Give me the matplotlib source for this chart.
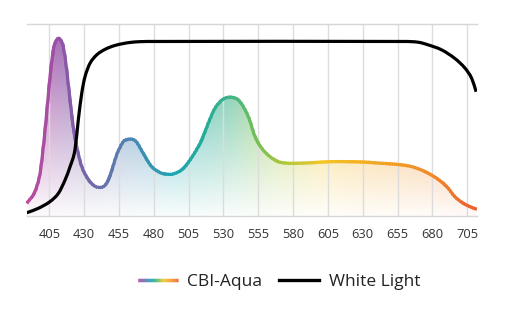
import numpy as np
import matplotlib
matplotlib.use("Agg")
import matplotlib.pyplot as plt
from matplotlib.collections import LineCollection
from matplotlib.colors import LinearSegmentedColormap, Normalize
from matplotlib.legend_handler import HandlerBase
from matplotlib.lines import Line2D
from matplotlib.path import Path
from matplotlib.patches import PathPatch, Rectangle

plt.rcParams['font.family'] = ['Open Sans', 'DejaVu Sans']

# wavelength axis (nm)
ticks = [405, 430, 455, 480, 505, 530, 555, 580, 605, 630, 655, 680, 705]

# CBI-Aqua relative spectrum
aqua_wl = [388.8, 394.7, 398.3, 400.7, 403.1, 405.5, 407.9, 409.7, 411.5, 413.3,
           415.1, 417.5, 419.9, 422.2, 424.7, 428.3, 433.0, 437.8, 442.1, 445.0,
           447.5, 450.0, 453.4, 458.1, 461.0, 464.2, 467.0, 469.0, 473.7, 478.5,
           484.5, 489.0, 494.0, 501.2, 508.4, 514.4, 519.1, 523.9, 529.9, 536.4,
           541.9, 547.9, 552.7, 557.5, 563.4, 569.4, 574.2, 580.2, 594.5, 606.5,
           618.5, 630.4, 642.4, 654.4, 665.2, 674.7, 683.1, 690.3, 696.2, 702.2,
           708.2, 711.8]
aqua_val = [0.066, 0.127, 0.22, 0.36, 0.535, 0.725, 0.865, 0.91, 0.925, 0.915,
            0.88, 0.76, 0.60, 0.465, 0.36, 0.257, 0.19, 0.155, 0.149, 0.16,
            0.19, 0.24, 0.32, 0.387, 0.398, 0.40, 0.39, 0.37, 0.31, 0.257,
            0.226, 0.218, 0.219, 0.248, 0.318, 0.396, 0.483, 0.561, 0.609, 0.618,
            0.595, 0.517, 0.413, 0.353, 0.309, 0.283, 0.276, 0.274, 0.278, 0.283,
            0.283, 0.281, 0.275, 0.269, 0.257, 0.231, 0.196, 0.153, 0.10, 0.066,
            0.045, 0.035]

# white light reference spectrum
white_wl = [388.8, 397.1, 405.5, 411.5, 416.3, 419.9, 423.4, 425.8, 428.3, 430.6,
            434.2, 439.0, 445.0, 452.0, 458.0, 463.0, 470.0, 480.0, 660.0, 669.9,
            677.1, 686.7, 696.2, 703.4, 708.2, 711.4]
white_val = [0.017, 0.04, 0.075, 0.118, 0.1875, 0.257, 0.344, 0.5, 0.64, 0.725,
             0.795, 0.839, 0.868, 0.888, 0.898, 0.904, 0.908, 0.909, 0.909, 0.905,
             0.891, 0.865, 0.82, 0.77, 0.717, 0.647]

# hue stops along the spectrum
hue_wl = [389, 405, 412, 425, 442, 464, 494, 515, 536, 556, 575, 600, 630, 680, 712]
hue_col = ['#bc4c9e', '#a24ea4', '#9452a6', '#7a60a8', '#6a70a8', '#4a86b4',
           '#1ea6b2', '#24ab9a', '#42b486', '#7cc052', '#b0c83a', '#f2c62a',
           '#f4ae22', '#f08a2a', '#ec5e30']

x_lo, x_hi = 389.2, 711.8
norm = Normalize(hue_wl[0], hue_wl[-1], clip=True)
cmap = LinearSegmentedColormap.from_list(
    'spectrum', [(norm(w), c) for w, c in zip(hue_wl, hue_col)])


def smooth_path(xs, ys, close_to=None):
    """Cubic Hermite curve through the points, as Bezier segments."""
    x = np.asarray(xs, float)
    y = np.asarray(ys, float)
    m = np.empty_like(y)
    m[1:-1] = (y[2:] - y[:-2]) / (x[2:] - x[:-2])
    m[0] = (y[1] - y[0]) / (x[1] - x[0])
    m[-1] = (y[-1] - y[-2]) / (x[-1] - x[-2])
    verts = [(x[0], y[0])]
    codes = [Path.MOVETO]
    for i in range(len(x) - 1):
        h = x[i + 1] - x[i]
        verts += [(x[i] + h / 3, y[i] + m[i] * h / 3),
                  (x[i + 1] - h / 3, y[i + 1] - m[i + 1] * h / 3),
                  (x[i + 1], y[i + 1])]
        codes += [Path.CURVE4] * 3
    if close_to is not None:
        verts += [(x[-1], close_to), (x[0], close_to), (x[0], y[0])]
        codes += [Path.LINETO, Path.LINETO, Path.CLOSEPOLY]
    return Path(verts, codes)


class GradientHandler(HandlerBase):
    def create_artists(self, legend, orig_handle, xdescent, ydescent,
                       width, height, fontsize, trans):
        xs = np.linspace(-xdescent, width - xdescent, 61)
        y = height / 2 - ydescent
        segs = [[(xs[i], y), (xs[i + 1] + 0.4, y)] for i in range(len(xs) - 1)]
        lc = LineCollection(segs, colors=cmap(np.linspace(0, 1, len(segs))),
                            linewidth=2.4, capstyle='butt', transform=trans)
        return [lc]


fig = plt.figure(figsize=(5.17, 3.34), dpi=100)
ax = fig.add_axes([27.3 / 517, 1 - 216 / 334, (476.7 - 27.3) / 517, 192 / 334])
ax.set_xlim(x_lo, x_hi)
ax.set_ylim(0, 1)

# gradient fill under the aqua curve
gx = np.linspace(x_lo, x_hi, 500)
gy = np.linspace(0, 1, 300)
img = np.zeros((len(gy), len(gx), 4))
img[:, :, :3] = cmap(norm(gx))[None, :, :3]
img[:, :, 3] = (0.03 + 0.85 * gy)[:, None]
im = ax.imshow(img, extent=(x_lo, x_hi, 0, 1), origin='lower',
               aspect='auto', interpolation='bilinear', zorder=1)
im.set_clip_path(smooth_path(aqua_wl, aqua_val, close_to=0), transform=ax.transData)

# aqua line, stroked in narrow wavelength bands so the colour follows the spectrum
aqua_path = smooth_path(aqua_wl, aqua_val)
edges = np.linspace(aqua_wl[0] - 2, aqua_wl[-1] + 2, 241)
step = edges[1] - edges[0]
for a, b in zip(edges[:-1], edges[1:]):
    band = PathPatch(aqua_path, fill=False, lw=2.3, zorder=3,
                     edgecolor=cmap(norm((a + b) / 2)), capstyle='butt')
    ax.add_patch(band)
    clip = Rectangle((a, -1), b - a + step * 0.6, 3, transform=ax.transData)
    band.set_clip_path(clip)

ax.add_patch(PathPatch(smooth_path(white_wl, white_val), fill=False,
                       edgecolor='black', lw=2.3, zorder=4, capstyle='butt'))

ax.set_xticks(ticks)
ax.tick_params(axis='x', length=0, pad=9, labelsize=9.3, labelcolor='#333333')
ax.set_yticks([])
ax.grid(axis='x', color='#dcdcdc', lw=1)
for side in ['left', 'right']:
    ax.spines[side].set_visible(False)
for side in ['top', 'bottom']:
    ax.spines[side].set_color('#d6d6d6')
    ax.spines[side].set_linewidth(1)

aqua_handle = Line2D([], [], color='#888888')
white_handle = Line2D([], [], color='black', lw=2.4)
fig.legend([aqua_handle, white_handle], ['CBI-Aqua', 'White Light'],
           handler_map={aqua_handle: GradientHandler()},
           loc='center', bbox_to_anchor=(279 / 517, 1 - 282 / 334), ncol=2,
           frameon=False, fontsize=12.5, handlelength=2.3, handletextpad=0.55,
           columnspacing=1.0, labelcolor='#222222')

fig.savefig('out.png', dpi=100)
